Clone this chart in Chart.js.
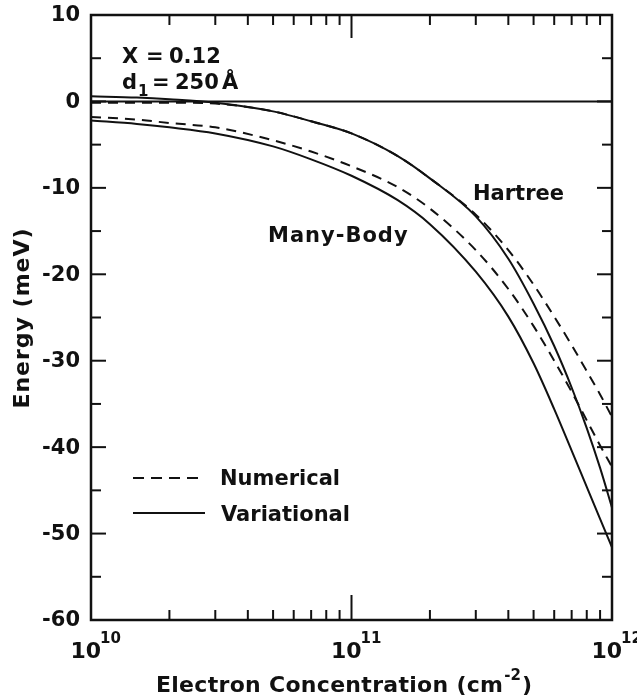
<!DOCTYPE html>
<html>
<head>
<meta charset="utf-8">
<script src="https://cdn.jsdelivr.net/npm/chart.js@4.4.1/dist/chart.umd.min.js"></script>
<style>
  html, body { margin: 0; padding: 0; background: #fff; }
  #wrap { width: 637px; height: 700px; }
</style>
</head>
<body>
<div id="wrap"><canvas id="energyChart"></canvas></div>
<script>
const concentration = [1e10, 1.5e10, 2e10, 3e10, 5e10, 7e10, 1e11, 1.5e11, 2e11,
                       3e11, 4e11, 5e11, 6e11, 7e11, 8e11, 9e11, 1e12];

// Energy (meV) for each curve
const hartreeNumerical   = [-0.15, -0.15, -0.15, -0.25, -1.15, -2.3, -3.7, -6.3, -8.9,
                            -13.1, -17.2, -21.2, -24.9, -28.2, -31.2, -33.9, -36.5];
const hartreeVariational = [0.6, 0.45, 0.25, -0.15, -1.15, -2.3, -3.7, -6.3, -8.9,
                            -13.3, -18.2, -23.4, -28.3, -33.1, -37.8, -42.4, -47.0];
const manyBodyNumerical   = [-1.8, -2.1, -2.5, -3.0, -4.5, -5.8, -7.5, -9.9, -12.4,
                             -17.2, -21.7, -26.0, -30.0, -33.6, -36.9, -39.8, -42.3];
const manyBodyVariational = [-2.2, -2.6, -3.0, -3.7, -5.2, -6.7, -8.6, -11.4, -14.2,
                             -19.7, -24.9, -30.3, -35.6, -40.4, -44.6, -48.3, -51.6];

// axis ticks
const yTickLabels = [10, 0, -10, -20, -30, -40, -50, -60];
const xDecades = [10, 11, 12];

const ink = '#111';
const FONT = '"DejaVu Sans", sans-serif';

function points(ys) {
    return concentration.map((c, i) => ({ x: c, y: ys[i] }));
}

function curve(label, ys, dashed) {
    return {
        label: label,
        data: points(ys),
        borderColor: ink,
        borderWidth: 2,
        borderDash: dashed ? [10, 7] : [],
        pointRadius: 0,
        fill: false,
        cubicInterpolationMode: 'monotone'
    };
}

function seg(ctx, x1, y1, x2, y2) {
    ctx.beginPath();
    ctx.moveTo(x1, y1);
    ctx.lineTo(x2, y2);
    ctx.stroke();
}

function setFont(ctx, size, spacing) {
    ctx.font = 'bold ' + size + 'px ' + FONT;
    if ('letterSpacing' in ctx) ctx.letterSpacing = (spacing || 0) + 'px';
}

// frame, inward ticks, tick labels, titles, legend and notes
const decorations = {
    id: 'decorations',
    afterDraw(chart) {
        const ctx = chart.ctx;
        const a = chart.chartArea;
        const xs = chart.scales.x, ys = chart.scales.y;
        ctx.save();
        ctx.strokeStyle = ink;
        ctx.fillStyle = ink;

        ctx.lineWidth = 2.5;
        ctx.strokeRect(a.left, a.top, a.right - a.left, a.bottom - a.top);

        // y ticks, both sides
        ctx.lineWidth = 2;
        for (let v = ys.min + 5; v < ys.max; v += 5) {
            const py = ys.getPixelForValue(v);
            const len = v % 10 === 0 ? 15 : 10;
            seg(ctx, a.left, py, a.left + len, py);
            seg(ctx, a.right, py, a.right - len, py);
        }

        // x ticks, bottom and top
        for (const d of [10, 11]) {
            for (let m = 1; m <= 9; m++) {
                if (d === 10 && m === 1) continue;
                const px = xs.getPixelForValue(m * Math.pow(10, d));
                seg(ctx, px, a.bottom, px, a.bottom - (m === 1 ? 25 : 10));
                seg(ctx, px, a.top, px, a.top + (m === 1 ? 23 : 10));
            }
        }

        // y tick labels
        setFont(ctx, 21);
        ctx.textAlign = 'right';
        ctx.textBaseline = 'middle';
        yTickLabels.forEach(v => {
            ctx.fillText(String(v), a.left - 11, ys.getPixelForValue(v) + 1);
        });

        // x tick labels 10^n
        ctx.textBaseline = 'alphabetic';
        xDecades.forEach(d => {
            const px = xs.getPixelForValue(Math.pow(10, d));
            setFont(ctx, 22);
            ctx.textAlign = 'right';
            ctx.fillText('10', px + 10, 658);
            setFont(ctx, 15);
            ctx.textAlign = 'left';
            ctx.fillText(String(d), px + 9, 643);
        });

        // x axis title with superscript
        ctx.textAlign = 'left';
        setFont(ctx, 22, 0.3);
        const t1 = 'Electron Concentration (cm';
        const w1 = ctx.measureText(t1).width;
        setFont(ctx, 15);
        const w2 = ctx.measureText('-2').width;
        setFont(ctx, 22);
        const w3 = ctx.measureText(')').width;
        const tx = 343 - (w1 + w2 + w3) / 2;
        setFont(ctx, 22, 0.3);
        ctx.fillText(t1, tx, 692);
        setFont(ctx, 15);
        ctx.fillText('-2', tx + w1 + 1, 680);
        setFont(ctx, 22);
        ctx.fillText(')', tx + w1 + w2 + 2, 692);

        // y axis title
        ctx.save();
        ctx.translate(23, 318);
        ctx.rotate(-Math.PI / 2);
        setFont(ctx, 22, 1);
        ctx.textAlign = 'center';
        ctx.textBaseline = 'middle';
        ctx.fillText('Energy (meV)', 0, 0);
        ctx.restore();

        // parameter notes
        setFont(ctx, 21);
        ctx.textAlign = 'left';
        ctx.fillText('X', 122, 63);
        ctx.fillText('=', 146, 63);
        ctx.fillText('0.12', 169, 63);
        ctx.fillText('d', 122, 89);
        setFont(ctx, 15);
        ctx.fillText('1', 138, 96);
        setFont(ctx, 21);
        ctx.fillText('=', 152, 89);
        ctx.fillText('250', 175, 89);
        ctx.fillText('\u00C5', 222, 89);

        // curve names
        ctx.fillText('Hartree', 473, 200);
        setFont(ctx, 21, 1);
        ctx.fillText('Many-Body', 268, 242);
        setFont(ctx, 21);

        // legend
        ctx.lineWidth = 2;
        ctx.setLineDash([11, 7]);
        seg(ctx, 133, 478, 205, 478);
        ctx.setLineDash([]);
        seg(ctx, 133, 513, 205, 513);
        ctx.fillText('Numerical', 220, 485);
        ctx.fillText('Variational', 221, 521);

        ctx.restore();
    }
};

const ctx = document.getElementById('energyChart').getContext('2d');
new Chart(ctx, {
    type: 'scatter',
    data: {
        datasets: [
            {
                label: 'zero',
                data: [{ x: 1e10, y: 0 }, { x: 1e12, y: 0 }],
                borderColor: ink,
                borderWidth: 2,
                pointRadius: 0
            },
            curve('Hartree numerical', hartreeNumerical, true),
            curve('Hartree variational', hartreeVariational, false),
            curve('Many-Body numerical', manyBodyNumerical, true),
            curve('Many-Body variational', manyBodyVariational, false)
        ].map(ds => Object.assign({ showLine: true }, ds))
    },
    options: {
        responsive: true,
        maintainAspectRatio: false,
        animation: false,
        layout: { padding: { top: 15, right: 25, left: 0, bottom: 0 } },
        plugins: {
            legend: { display: false },
            tooltip: { enabled: false }
        },
        scales: {
            x: {
                type: 'logarithmic',
                min: 1e10,
                max: 1e12,
                ticks: { display: false },
                grid: { display: false },
                border: { display: false },
                afterFit: s => { s.height = 80; }
            },
            y: {
                type: 'linear',
                min: -60,
                max: 10,
                ticks: { display: false },
                grid: { display: false },
                border: { display: false },
                afterFit: s => { s.width = 91; }
            }
        }
    },
    plugins: [decorations]
});
</script>
</body>
</html>
